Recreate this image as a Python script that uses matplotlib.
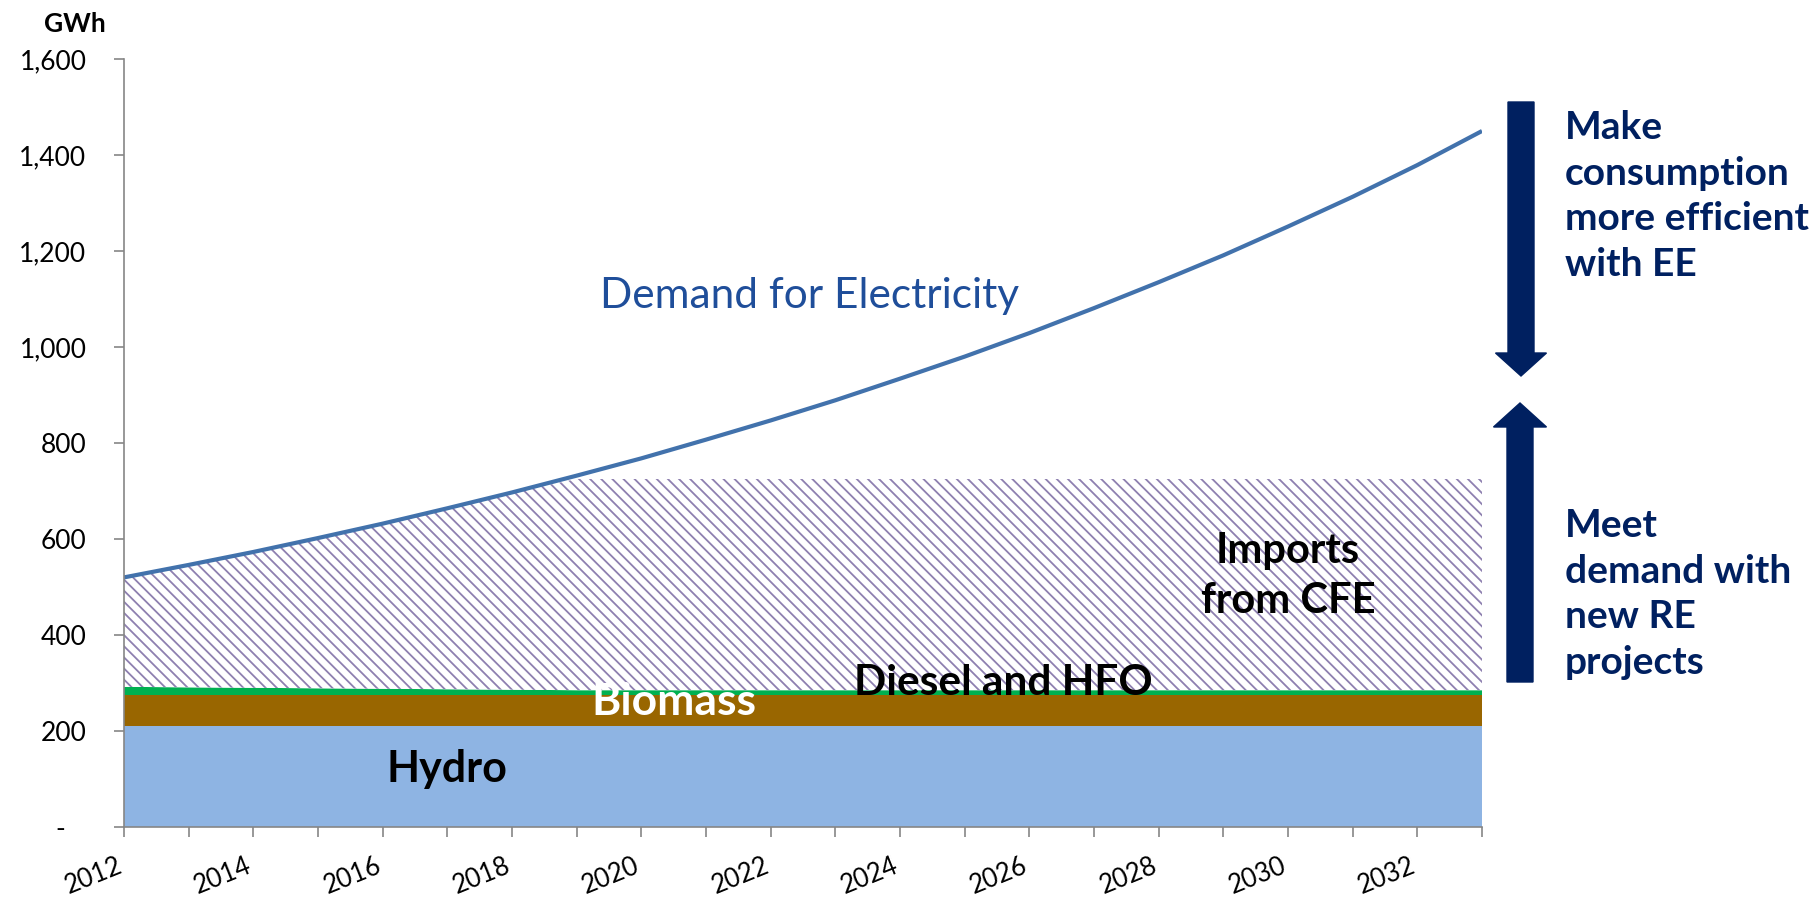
import matplotlib.pyplot as plt
from matplotlib.patches import FancyArrow

plt.rcParams['font.family'] = ['Lato', 'DejaVu Sans']
plt.rcParams['hatch.linewidth'] = 1.3

years = list(range(2012, 2034))
hydro = [210] * 22
biomass = [65] * 22
diesel = [17, 16, 15, 14, 13, 12, 11, 10, 10, 10, 10, 10, 10, 10, 10, 10, 10, 10, 10, 10, 10, 10]
imports = [228, 255, 283, 313, 344, 377, 411, 440, 440, 440, 440, 440, 440, 440, 440, 440, 440, 440, 440, 440, 440, 440]
demand = [520, 546, 573, 602, 632, 664, 697, 732, 768, 807, 847, 889, 934, 980,
          1029, 1081, 1135, 1191, 1251, 1313, 1379, 1450]

y_ticks = [0, 200, 400, 600, 800, 1000, 1200, 1400, 1600]
y_labels = ['-   ', '200', '400', '600', '800', '1,000', '1,200', '1,400', '1,600']
x_labels = [str(y) if y % 2 == 0 else '' for y in years]

navy = '#002060'

fig = plt.figure(figsize=(18.18, 8.99), dpi=100)
ax = fig.add_axes([124 / 1818, 1 - 827 / 899, (1482 - 124) / 1818, (827 - 59) / 899])

polys = ax.stackplot(years, hydro, biomass, diesel, imports,
                     colors=['#8EB4E3', '#996600', '#00B050', 'white'], linewidth=0)
polys[3].set_hatch('\\\\\\')
polys[3].set_edgecolor('#8E80B0')
polys[3].set_linewidth(0)

ax.plot(years, demand, color='#4272AC', lw=3, solid_capstyle='butt')

ax.set_xlim(2012, 2033)
ax.set_ylim(0, 1600)
ax.set_yticks(y_ticks)
ax.set_yticklabels(y_labels, fontsize=19)
ax.set_xticks(years)
ax.set_xticklabels(x_labels, fontsize=18.5, rotation=22, ha='right', va='baseline',
                   rotation_mode='anchor')
for s in ['top', 'right']:
    ax.spines[s].set_visible(False)
for s in ['left', 'bottom']:
    ax.spines[s].set_color('#868686')
    ax.spines[s].set_linewidth(1.2)
ax.tick_params(axis='y', length=7, width=1.2, color='#868686', pad=20)
ax.tick_params(axis='x', length=7, width=1.2, color='#868686', pad=25)

fig.text(75 / 1818, 1 - 24 / 899, 'GWh', fontsize=19, fontweight='bold', ha='center', va='center')

ax.text(2017.0, 94, 'Hydro', fontsize=31, fontweight='bold', ha='center', va='baseline')
ax.text(2020.5, 233, 'Biomass', fontsize=32, fontweight='bold', color='white', ha='center', va='baseline')
ax.text(2025.6, 275, 'Diesel and HFO', fontsize=30.5, fontweight='bold', ha='center', va='baseline')
ax.text(2030.0, 550, 'Imports', fontsize=30, fontweight='bold', ha='center', va='baseline')
ax.text(2030.0, 446, 'from CFE', fontsize=30, fontweight='bold', ha='center', va='baseline')
ax.text(2022.6, 1081, 'Demand for Electricity', fontsize=30.5, color='#1F4E9A', ha='center', va='baseline')

fig.text(1565 / 1818, 1 - 110 / 899, 'Make\nconsumption\nmore efficient\nwith EE',
         fontsize=28, fontweight='bold', color=navy, ha='left', va='top', linespacing=1.37)
fig.text(1565 / 1818, 1 - 508 / 899, 'Meet\ndemand with\nnew RE\nprojects',
         fontsize=28, fontweight='bold', color=navy, ha='left', va='top', linespacing=1.37)

# arrows, in inches
fig.add_artist(FancyArrow(15.21, (899 - 102) / 100, 0, -(376 - 102) / 100, width=0.26,
                          head_width=0.51, head_length=0.23, length_includes_head=True,
                          color=navy, transform=fig.dpi_scale_trans))
fig.add_artist(FancyArrow(15.20, (899 - 682) / 100, 0, (682 - 403) / 100, width=0.26,
                          head_width=0.53, head_length=0.24, length_includes_head=True,
                          color=navy, transform=fig.dpi_scale_trans))

fig.savefig('out.png', dpi=100)
